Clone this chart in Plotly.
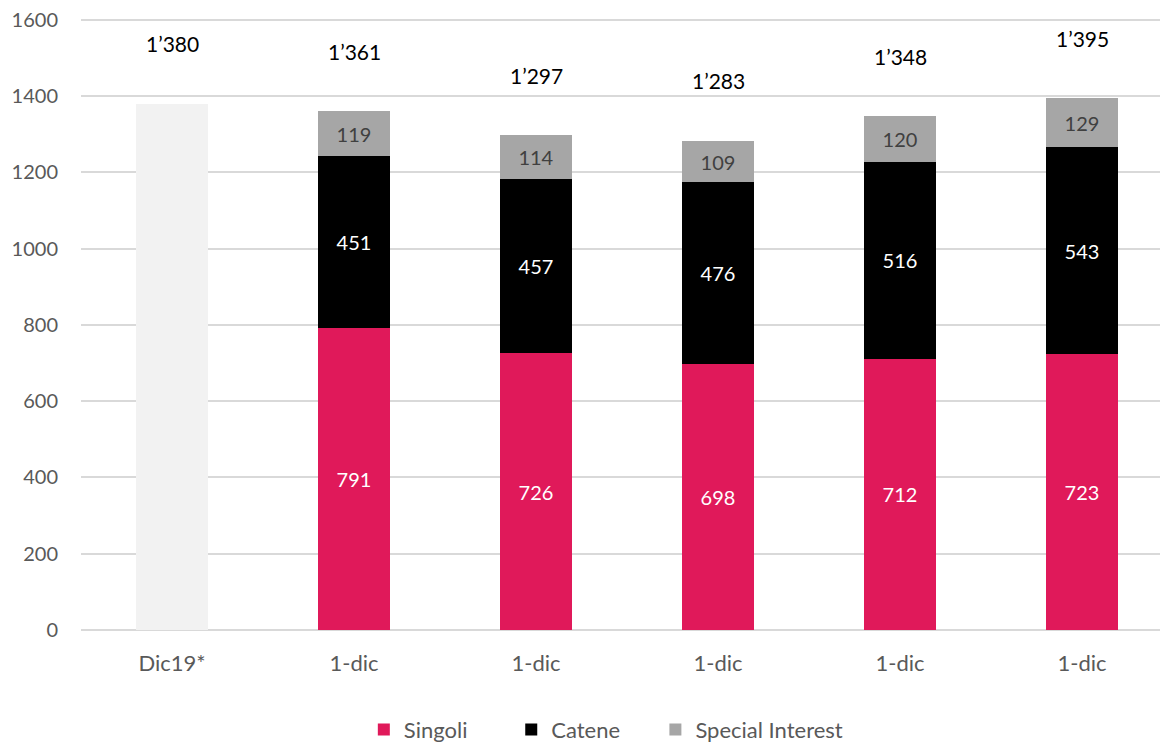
import plotly.graph_objects as go

categories = ["Dic19*", "1-dic", "1-dic", "1-dic", "1-dic", "1-dic"]
dic19_total = [1380]
singoli = [791, 726, 698, 712, 723]
catene = [451, 457, 476, 516, 543]
special = [119, 114, 109, 120, 129]
totals = [1380, 1361, 1297, 1283, 1348, 1395]
total_labels = ["1’380", "1’361", "1’297", "1’283", "1’348", "1’395"]

FONT = "Lato"
FS = 20
xs_all = list(range(len(categories)))
xs = xs_all[1:]

fig = go.Figure()
fig.add_trace(go.Bar(x=[0], y=dic19_total, marker=dict(color="#F2F2F2", line=dict(width=0)),
                     showlegend=False, width=0.4, hoverinfo="skip"))
fig.add_trace(go.Bar(x=xs, y=singoli, name="Singoli", marker=dict(color="#E0195A", line=dict(width=0)),
                     width=0.4, text=singoli, textposition="inside", insidetextanchor="middle",
                     textfont=dict(color="white", size=FS, family=FONT), legend="legend"))
fig.add_trace(go.Bar(x=xs, y=catene, name="Catene", marker=dict(color="#000000", line=dict(width=0)),
                     width=0.4, text=catene, textposition="inside", insidetextanchor="middle",
                     textfont=dict(color="white", size=FS, family=FONT), legend="legend2"))
fig.add_trace(go.Bar(x=xs, y=special, name="Special Interest", marker=dict(color="#A6A6A6", line=dict(width=0)),
                     width=0.4, text=special, textposition="inside", insidetextanchor="middle",
                     textfont=dict(color="#404040", size=FS, family=FONT), legend="legend3"))

for x, t, lab in zip(xs_all, totals, total_labels):
    fig.add_annotation(x=x, y=t, text=lab, showarrow=False, yshift=60,
                       font=dict(color="black", size=21, family=FONT))

leg_common = dict(orientation="h", xanchor="left", y=-0.163, yanchor="middle",
                  font=dict(size=22, color="#595959"), itemwidth=30, bgcolor="rgba(0,0,0,0)")

fig.update_layout(
    barmode="stack",
    width=1168, height=750,
    margin=dict(l=73, r=3, t=10, b=128),
    plot_bgcolor="white", paper_bgcolor="white",
    font=dict(family=FONT, size=FS, color="#595959"),
    uniformtext=dict(minsize=10, mode="show"),
    legend=dict(x=0.259, **leg_common),
    legend2=dict(x=0.394, **leg_common),
    legend3=dict(x=0.526, **leg_common),
    xaxis=dict(tickmode="array", tickvals=xs_all, ticktext=categories, range=[-0.5, 5.5],
               showgrid=False, showline=False, zeroline=False, ticks="", automargin=False,
               ticklabelstandoff=18, tickfont=dict(size=22, color="#595959")),
    yaxis=dict(range=[0, 1605], tickmode="array", tickvals=list(range(0, 1601, 200)),
               showgrid=True, gridcolor="#D9D9D9", gridwidth=1.5,
               zeroline=True, zerolinecolor="#D9D9D9", zerolinewidth=1.5, showline=False,
               ticks="", automargin=False, ticklabelstandoff=22, ticklabeloverflow="allow",
               tickfont=dict(size=FS, color="#595959")),
)
fig.write_html("out.html")
